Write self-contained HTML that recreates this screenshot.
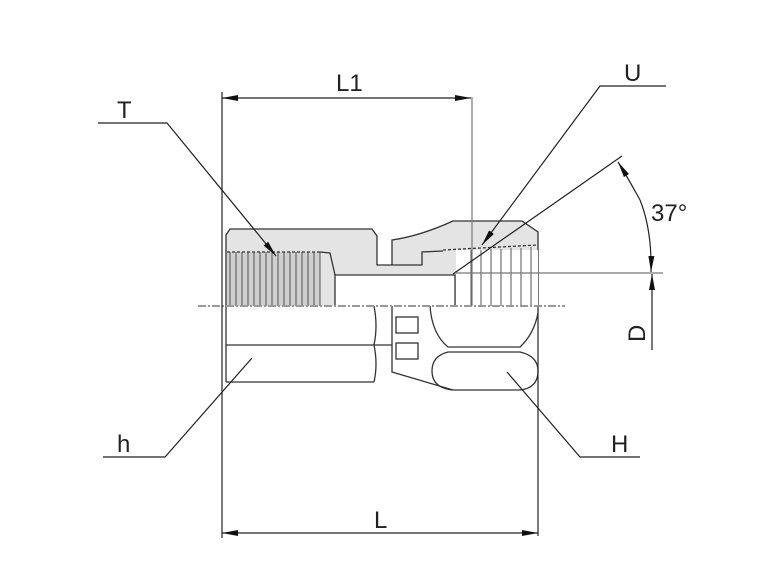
<!DOCTYPE html>
<html><head><meta charset="utf-8"><style>
html,body{margin:0;padding:0;background:#fff;}
svg{display:block;}
text{font-family:"Liberation Sans",sans-serif;fill:#222;}
</style></head><body>
<svg width="768" height="584" viewBox="0 0 768 584" xmlns="http://www.w3.org/2000/svg">
<defs>
<marker id="a" markerWidth="16" markerHeight="6" refX="16" refY="3" orient="auto" markerUnits="userSpaceOnUse">
<path d="M0,0 L16,3 L0,6 Z" fill="#111"/></marker>
<marker id="b" markerWidth="16" markerHeight="6" refX="0" refY="3" orient="auto" markerUnits="userSpaceOnUse">
<path d="M16,0 L0,3 L16,6 Z" fill="#111"/></marker>
</defs>
<g stroke="#333" stroke-width="1.3" fill="none">
<path d="M226,235 L230,229 L372,229 L377,236 L377,265 L392,265 L392,240 Q420,236 453,221 L522,221 L538,232 L538,306 L226,306 Z" fill="#e4e4e4" stroke="none"/>
<path d="M226,306 L226,235 L230,229 L372,229 L377,236 L377,265 L392,265"/>
<path d="M392,265 L392,240 Q420,236 453,221 L522,221 L538,232 L538,306"/>
<rect x="335" y="275" width="120" height="31" fill="#fff" stroke="none"/>
<path d="M335,306 L335,275 L455,275 L455,306"/>
<path d="M320,252 L330,253 L335,275"/>
<rect x="227" y="252" width="93" height="54" fill="#d0d0d0" stroke="none"/>
<path d="M227,252 L320,252" stroke-dasharray="3,2"/>
<g stroke="#444" stroke-width="0.9">
<path d="M230,252V306M236,252V306M242,252V306M248,252V306M254,252V306M260,252V306M266,252V306M272,252V306M278,252V306M284,252V306M290,252V306M296,252V306M302,252V306M308,252V306M314,252V306M320,252V306"/>
</g>
<path d="M392,265 L422,265 L422,252 L443,251"/>
<rect x="456" y="250" width="82" height="56" fill="#fff" stroke="none"/>
<path d="M443,250 L538,245" stroke-dasharray="3,2"/>
<g stroke="#444" stroke-width="0.9">
<path d="M471,250V306M481,250V306M491,249V306M501,249V306M511,248V306M521,248V306M531,247V306"/>
</g>
<path d="M226,306 L226,382 M226,345 L374,345 M226,382 L374,382"/>
<path d="M374,306 Q378,326 374,345 Q378,364 374,382"/>
<path d="M374,345 L392,345"/>
<path d="M392,306 L392,372 L453,390"/>
<rect x="396" y="317" width="22" height="16"/>
<rect x="396" y="343" width="22" height="16"/>
<path d="M430,306 Q432,334 448,347 L520,347 Q534,334 538,313"/>
<path d="M448,352 L520,352 Q538,356 538,371 Q538,388 520,390 L453,390 Q432,388 432,371 Q432,356 448,352 Z"/>
<path d="M538,306 L538,536"/>
</g>
<path d="M198,306 L565,306" stroke="#999" stroke-width="2" stroke-dasharray="8,2,2,2"/>
<g stroke="#222" stroke-width="1.2" fill="none">
<path d="M222,92 L222,538"/>
<path d="M472,97 L472,306" stroke="#777"/>
<path d="M222,98 L471,98" marker-start="url(#b)" marker-end="url(#a)"/>
<path d="M222,533 L538,533" marker-start="url(#b)" marker-end="url(#a)"/>
<path d="M98,123 L167,123 L276,256" marker-end="url(#a)"/>
<path d="M666,86 L600,86 L482,245" marker-end="url(#a)"/>
<path d="M103,457 L165,457 L252,358"/>
<path d="M640,457 L580,457 L507,372"/>
<path d="M453,274 L622,156"/>
<path d="M455,273 L663,273" stroke="#777"/>
<path d="M640,200 Q628,178 618,162" marker-end="url(#a)"/>
<path d="M640,200 Q652,230 651,272" marker-end="url(#a)"/>
<path d="M652,350 L652,274" marker-end="url(#a)"/>
</g>
<text x="336" y="91" font-size="24">L1</text>
<text x="117" y="118" font-size="24">T</text>
<text x="624" y="81" font-size="24">U</text>
<text x="651" y="221" font-size="24">37°</text>
<text x="117" y="452" font-size="24">h</text>
<text x="611" y="452" font-size="24">H</text>
<text x="374" y="528" font-size="24">L</text>
<text x="0" y="0" font-size="24" transform="translate(645,342) rotate(-90)">D</text>
</svg>
</body></html>
